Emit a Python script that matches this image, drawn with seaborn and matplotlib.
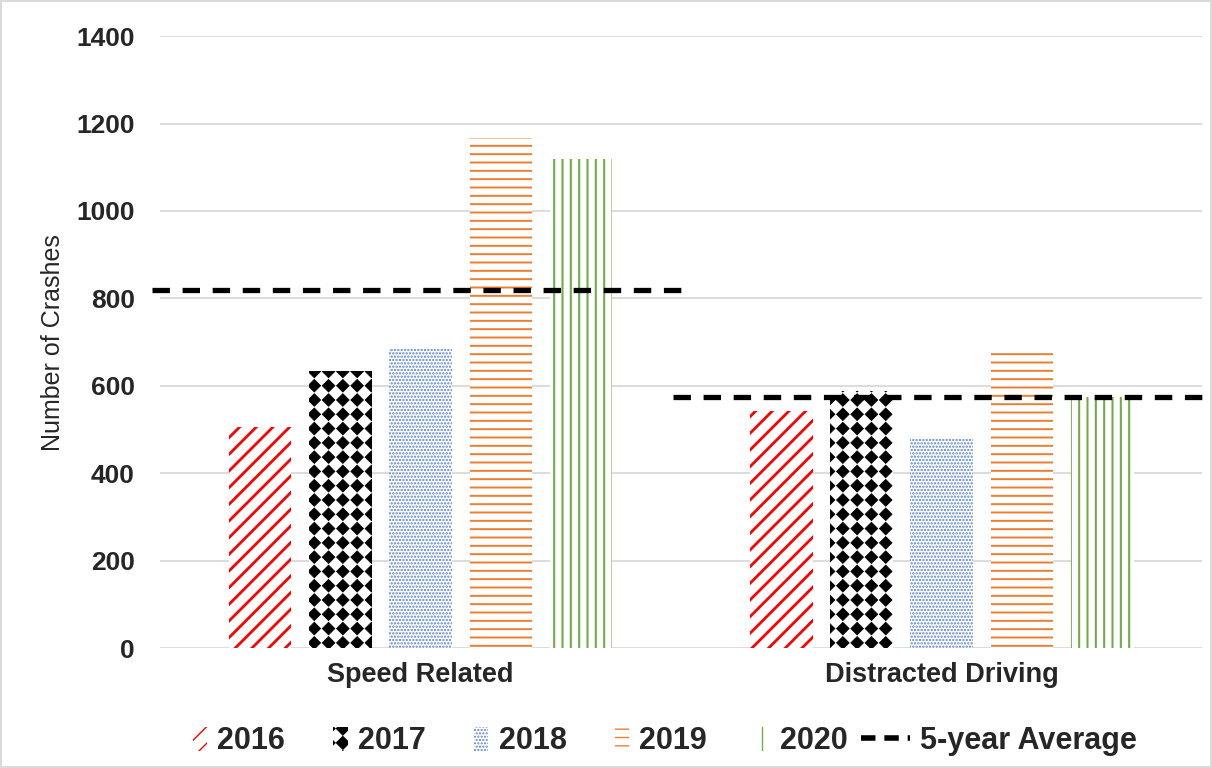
import warnings
import numpy as np
import pandas as pd
import matplotlib
matplotlib.use("Agg")
import matplotlib.pyplot as plt
import matplotlib.hatch as mhatch
import matplotlib.patches as mpatches
from matplotlib.lines import Line2D
from matplotlib.legend_handler import HandlerPatch
from matplotlib.path import Path
import seaborn as sns

warnings.filterwarnings("ignore")

# Datos
categories = ["Speed Related", "Distracted Driving"]
years = ["2016", "2017", "2018", "2019", "2020"]
crashes_speed = [506, 635, 684, 1168, 1119]
crashes_distracted = [543, 588, 479, 685, 575]
five_year_avg = [820, 575]

colors = ["#ff0000", "#000000", "#5a82d2", "#ed7d31", "#70ad47"]
hatches = ["//", "d", ".....", "--", "||"]
hatch_lw = [2.0, 0.6, 1.1, 1.4, 1.5]


# patrón de diamantes (tipo Excel) como hatch propio
class DiamondHatch(mhatch.HatchPatternBase):
    def __init__(self, hatch, density):
        self.num_rows = hatch.count("d") * 7
        if self.num_rows == 0:
            self.num_vertices = 0
        else:
            self.num_vertices = (self.num_rows + 1) ** 2 * 5

    def set_vertices_and_codes(self, vertices, codes):
        n = self.num_rows
        step = 1.0 / n
        r = step * 0.44
        k = 0
        for i in range(n + 1):
            for j in range(n + 1):
                cx, cy = i * step, j * step
                vertices[k:k + 5] = [(cx, cy + r), (cx - r, cy), (cx, cy - r),
                                     (cx + r, cy), (cx, cy + r)]
                codes[k] = Path.MOVETO
                codes[k + 1:k + 4] = Path.LINETO
                codes[k + 4] = Path.CLOSEPOLY
                k += 5


mhatch._hatch_types.append(DiamondHatch)

df = pd.DataFrame({
    "categoria": [c for c in categories for _ in years],
    "ano": years * 2,
    "crashes": crashes_speed + crashes_distracted,
})

sns.set_style("white")
plt.rcParams["font.family"] = ["Liberation Sans", "DejaVu Sans"]
plt.rcParams["hatch.linewidth"] = 1.0

fig = plt.figure(figsize=(12.12, 7.68), dpi=100)
ax = fig.add_axes([0.132, 0.156, 0.86, 0.797])

sns.barplot(data=df, x="categoria", y="crashes", hue="ano", hue_order=years,
            order=categories, palette=["white"] * 5, width=0.77, gap=0.22,
            linewidth=0, legend=False, ax=ax)

for cont, col, h, lw in zip(ax.containers, colors, hatches, hatch_lw):
    for bar in cont:
        bar.set_facecolor("white")
        bar.set_edgecolor(col)
        bar.set_linewidth(0)
        bar.set_hatch(h)
        if hasattr(bar, "set_hatch_linewidth"):
            bar.set_hatch_linewidth(lw)

# línea de promedio de 5 años por categoría
for i, avg in enumerate(five_year_avg):
    ax.hlines(avg, i - 0.515, i + 0.52, colors="black", linewidth=3.8,
              linestyles=(0, (3.3, 2.4)), clip_on=False, zorder=5)

ax.set_xlim(-0.5, 1.5)
ax.set_ylim(0, 1400)
ax.set_yticks(np.arange(0, 1401, 200))
ax.grid(axis="y", color="#d9d9d9", linewidth=1.3)
ax.set_axisbelow(True)
for s in ax.spines.values():
    s.set_visible(False)
ax.tick_params(axis="y", length=0, pad=18, labelsize=19)
ax.tick_params(axis="x", length=0, pad=10, labelsize=19.5)
for t in ax.get_xticklabels() + ax.get_yticklabels():
    t.set_fontweight("bold")
ax.set_xlabel("")
ax.set_ylabel("Number of Crashes", fontsize=18, labelpad=8)

fig.patch.set_edgecolor("#d9d9d9")
fig.patch.set_linewidth(1.5)


def narrow_patch(legend, orig_handle, xdescent, ydescent, width, height, fontsize):
    return mpatches.Rectangle((-xdescent + width * 0.7, -ydescent - height * 0.1),
                              width * 0.3, height * 1.15)


handles = []
for c, h, lw in zip(colors, hatches, hatch_lw):
    p = mpatches.Patch(facecolor="white", edgecolor=c, hatch=h, linewidth=0)
    if hasattr(p, "set_hatch_linewidth"):
        p.set_hatch_linewidth(lw)
    handles.append(p)
handles.append(Line2D([0], [0], color="black", linewidth=4, linestyle=(0, (2.6, 1.6))))
labels = years + ["5-year Average"]

leg = fig.legend(handles, labels, loc="center left", bbox_to_anchor=(0.108, 0.035), ncol=6,
                 frameon=False, handlelength=1.6, handletextpad=0.33, columnspacing=0.45,
                 prop={"weight": "bold", "size": 22},
                 handler_map={mpatches.Patch: HandlerPatch(patch_func=narrow_patch)})

fig.savefig("out.png", dpi=100)
